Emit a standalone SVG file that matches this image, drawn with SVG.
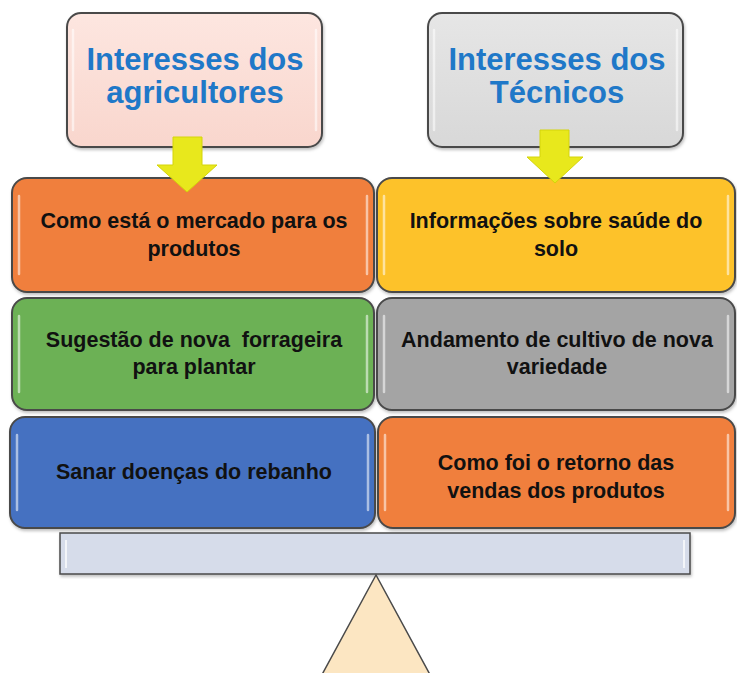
<svg xmlns="http://www.w3.org/2000/svg" width="737" height="673" viewBox="0 0 737 673">
  <defs>
    <style>
      .box { stroke: #4a4a4a; stroke-width: 2; }
      .hl { fill: none; stroke: #ffffff; stroke-opacity: 0.55; stroke-width: 2.5; stroke-linecap: round; }
      .title { font-family: "Liberation Sans", Arial, sans-serif; font-weight: bold; font-size: 31px; fill: #1f78c8; text-anchor: middle; }
      .lbl { font-family: "Liberation Sans", Arial, sans-serif; font-weight: bold; font-size: 21.5px; fill: #111111; text-anchor: middle; white-space: pre; }
      .arrow { fill: #e8e81c; stroke: #d4d40a; stroke-width: 1; }
    </style>
    <linearGradient id="pinkG" x1="0" y1="0" x2="0" y2="1">
      <stop offset="0" stop-color="#fde6e0"/>
      <stop offset="1" stop-color="#f9d6cd"/>
    </linearGradient>
    <linearGradient id="grayG" x1="0" y1="0" x2="0" y2="1">
      <stop offset="0" stop-color="#e6e6e6"/>
      <stop offset="1" stop-color="#d8d8d8"/>
    </linearGradient>
    <filter id="sh" x="-5%" y="-5%" width="110%" height="115%">
      <feDropShadow dx="1" dy="2" stdDeviation="1.5" flood-color="#000" flood-opacity="0.25"/>
    </filter>
  </defs>
  <rect width="737" height="673" fill="#ffffff"/>

  <g id="titulo-agricultores">
    <rect class="box" x="67" y="13" width="255" height="134" rx="14" fill="url(#pinkG)" filter="url(#sh)"/>
    <path class="hl" d="M73 30 V130 M316 30 V130"/>
    <text class="title" x="195" y="70">Interesses dos</text>
    <text class="title" x="195" y="103">agricultores</text>
  </g>

  <g id="titulo-tecnicos">
    <rect class="box" x="428" y="13" width="255" height="134" rx="14" fill="url(#grayG)" filter="url(#sh)"/>
    <path class="hl" d="M434 30 V130 M677 30 V130"/>
    <text class="title" x="557" y="70">Interesses dos</text>
    <text class="title" x="557" y="103">Técnicos</text>
  </g>

  <g id="mercado">
    <rect class="box" x="12" y="178" width="362" height="114" rx="15" fill="#f07f3c" filter="url(#sh)"/>
    <path class="hl" d="M19 196 V274 M367 196 V274"/>
    <text class="lbl" x="194" y="228">Como está o mercado para os</text>
    <text class="lbl" x="194" y="256">produtos</text>
  </g>

  <g id="saude-solo">
    <rect class="box" x="377" y="178" width="358" height="114" rx="15" fill="#fdc22a" filter="url(#sh)"/>
    <path class="hl" d="M384 196 V274 M728 196 V274"/>
    <text class="lbl" x="556" y="228">Informações sobre saúde do</text>
    <text class="lbl" x="556" y="256">solo</text>
  </g>

  <g id="forrageira">
    <rect class="box" x="12" y="298" width="362" height="112" rx="15" fill="#6cb155" filter="url(#sh)"/>
    <path class="hl" d="M19 316 V392 M367 316 V392"/>
    <text class="lbl" x="194" y="347" xml:space="preserve">Sugestão de nova  forrageira</text>
    <text class="lbl" x="194" y="374">para plantar</text>
  </g>

  <g id="cultivo">
    <rect class="box" x="377" y="298" width="358" height="112" rx="15" fill="#a4a4a4" filter="url(#sh)"/>
    <path class="hl" d="M384 316 V392 M728 316 V392"/>
    <text class="lbl" x="557" y="347">Andamento de cultivo de nova</text>
    <text class="lbl" x="557" y="374">variedade</text>
  </g>

  <g id="rebanho">
    <rect class="box" x="10" y="417" width="365" height="111" rx="15" fill="#4571c1" filter="url(#sh)"/>
    <path class="hl" d="M17 435 V510 M368 435 V510"/>
    <text class="lbl" x="194" y="479">Sanar doenças do rebanho</text>
  </g>

  <g id="vendas">
    <rect class="box" x="378" y="417" width="357" height="111" rx="15" fill="#f07f3c" filter="url(#sh)"/>
    <path class="hl" d="M385 435 V510 M728 435 V510"/>
    <text class="lbl" x="556" y="470">Como foi o retorno das</text>
    <text class="lbl" x="556" y="498">vendas dos produtos</text>
  </g>

  <g id="balanca">
    <rect x="60" y="533" width="630" height="41" fill="#d6dcea" stroke="#4a4a4a" stroke-width="1.5" filter="url(#sh)"/>
    <path d="M66 540 V568 M684 540 V568" fill="none" stroke="#ffffff" stroke-opacity="0.7" stroke-width="2"/>
    <polygon points="376,575 318,682 434,682" fill="#fce6c2" stroke="#4a4a4a" stroke-width="1.5"/>
  </g>

  <g id="conectores">
    <polygon class="arrow" points="173,137 202,137 202,165 217,165 187,192 157,165 173,165"/>
    <polygon class="arrow" points="540,130 569,130 569,157 583,157 555,183 527,157 540,157"/>
  </g>
</svg>
